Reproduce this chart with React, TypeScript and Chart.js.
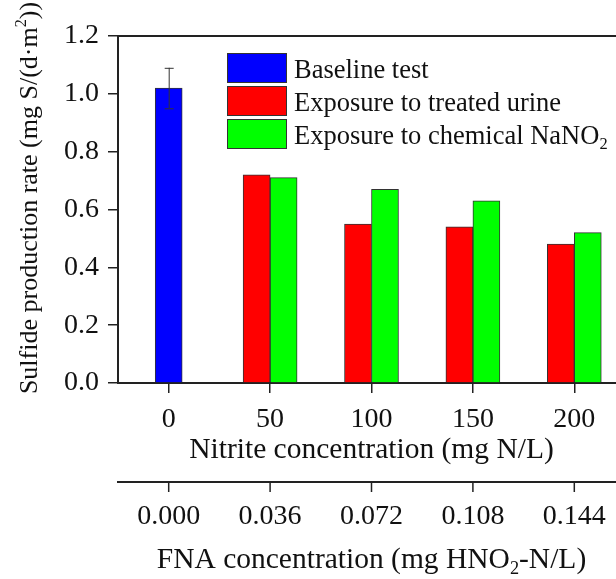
import React, { useEffect, useRef } from "react";
import { Chart, registerables } from "chart.js";

Chart.register(...registerables);

const categories = ["0", "50", "100", "150", "200"];
const fnaLabels = ["0.000", "0.036", "0.072", "0.108", "0.144"];
const baselineTest = [1.02, null, null, null, null];
const baselineErr = [0.07, null, null, null, null];
const treatedUrine = [null, 0.72, 0.55, 0.54, 0.48];
const chemicalNaNO2 = [null, 0.71, 0.67, 0.63, 0.52];
const yMin = 0;
const yMax = 1.2;
const yStep = 0.2;

const FAMILY = '"Liberation Serif", "Times New Roman", serif';
const INK = "#111";
const AXIS = "#222";

type Seg = { t: string; sub?: boolean; sup?: boolean };

function drawRich(
  ctx: CanvasRenderingContext2D,
  segs: Seg[],
  x: number,
  y: number,
  size: number,
  align: "left" | "center"
) {
  const small = size * 0.62;
  const widths = segs.map((s) => {
    ctx.font = `${s.sub || s.sup ? small : size}px ${FAMILY}`;
    return ctx.measureText(s.t).width;
  });
  const total = widths.reduce((a, b) => a + b, 0);
  let cx = align === "center" ? x - total / 2 : x;
  ctx.textAlign = "left";
  ctx.textBaseline = "alphabetic";
  ctx.fillStyle = INK;
  segs.forEach((s, i) => {
    ctx.font = `${s.sub || s.sup ? small : size}px ${FAMILY}`;
    let yy = y;
    if (s.sub) yy = y + size * 0.22;
    if (s.sup) yy = y - size * 0.42;
    ctx.fillText(s.t, cx, yy);
    cx += widths[i];
  });
}

const legendItems: { color: string; segs: Seg[] }[] = [
  { color: "#0000FF", segs: [{ t: "Baseline test" }] },
  { color: "#FF0000", segs: [{ t: "Exposure to treated urine" }] },
  { color: "#00FF00", segs: [{ t: "Exposure to chemical NaNO" }, { t: "2", sub: true }] },
];

const decorPlugin = {
  id: "decor",
  afterDatasetsDraw(chart: any) {
    const ctx: CanvasRenderingContext2D = chart.ctx;
    const ys = chart.scales.y;
    ctx.save();
    const meta = chart.getDatasetMeta(0);
    meta.data.forEach((el: any, i: number) => {
      const v = baselineTest[i];
      const e = baselineErr[i];
      if (v == null || e == null) return;
      const x = el.x;
      const yt = ys.getPixelForValue(v + e);
      const yb = ys.getPixelForValue(v - e);
      ctx.strokeStyle = "#333";
      ctx.lineWidth = 1;
      ctx.beginPath();
      ctx.moveTo(x + 0.5, yt);
      ctx.lineTo(x + 0.5, yb);
      ctx.moveTo(x - 4, yt + 0.5);
      ctx.lineTo(x + 5, yt + 0.5);
      ctx.moveTo(x - 4, yb + 0.5);
      ctx.lineTo(x + 5, yb + 0.5);
      ctx.stroke();
    });
    ctx.restore();
  },
  afterDraw(chart: any) {
    const ctx: CanvasRenderingContext2D = chart.ctx;
    const xs = chart.scales.x;
    const area = chart.chartArea;
    ctx.save();
    ctx.strokeStyle = AXIS;
    ctx.lineWidth = 2;
    ctx.beginPath();
    ctx.moveTo(area.left - 1, area.top);
    ctx.lineTo(area.right, area.top);
    ctx.stroke();

    const boxX = 227;
    const boxW = 59;
    const boxH = 29;
    const rowY = [53, 86, 119];
    legendItems.forEach((it, i) => {
      ctx.fillStyle = it.color;
      ctx.fillRect(boxX, rowY[i], boxW, boxH);
      ctx.strokeStyle = "#333";
      ctx.lineWidth = 1;
      ctx.strokeRect(boxX + 0.5, rowY[i] + 0.5, boxW, boxH);
      drawRich(ctx, it.segs, 294, rowY[i] + boxH / 2 + 10, 26.5, "left");
    });

    const axY = 482;
    ctx.strokeStyle = AXIS;
    ctx.lineWidth = 2;
    ctx.beginPath();
    ctx.moveTo(area.left - 1, axY);
    ctx.lineTo(area.right, axY);
    ctx.stroke();
    ctx.lineWidth = 1.5;
    categories.forEach((_, i) => {
      const px = xs.getPixelForValue(i);
      ctx.beginPath();
      ctx.moveTo(px, axY);
      ctx.lineTo(px, axY + 10);
      ctx.stroke();
      drawRich(ctx, [{ t: fnaLabels[i] }], px, 524, 28, "center");
    });
    const cx = (area.left + area.right) / 2;
    drawRich(
      ctx,
      [{ t: "FNA concentration (mg HNO" }, { t: "2", sub: true }, { t: "-N/L)" }],
      cx,
      568,
      29.5,
      "center"
    );

    ctx.save();
    ctx.translate(37, 198);
    ctx.rotate(-Math.PI / 2);
    drawRich(
      ctx,
      [{ t: "Sulfide production rate (mg S/(d·m" }, { t: "2", sup: true }, { t: "))" }],
      0,
      0,
      26,
      "center"
    );
    ctx.restore();
    ctx.restore();
  },
};

export default function App() {
  const ref = useRef<HTMLCanvasElement | null>(null);
  useEffect(() => {
    if (!ref.current) return;
    const chart = new Chart(ref.current, {
      type: "bar",
      data: {
        labels: categories,
        datasets: [
          {
            label: "Baseline test",
            data: baselineTest as any,
            backgroundColor: "#0000FF",
            borderColor: "#333",
            borderWidth: 1,
          },
          {
            label: "Exposure to treated urine",
            data: treatedUrine as any,
            backgroundColor: "#FF0000",
            borderColor: "#333",
            borderWidth: 1,
          },
          {
            label: "Exposure to chemical NaNO2",
            data: chemicalNaNO2 as any,
            backgroundColor: "#00FF00",
            borderColor: "#333",
            borderWidth: 1,
          },
        ],
      },
      options: {
        responsive: false,
        animation: false,
        devicePixelRatio: 1,
        layout: { padding: { top: 36, right: 15, left: 0, bottom: 0 } },
        datasets: { bar: { barThickness: 27, skipNull: true } } as any,
        plugins: { legend: { display: false }, tooltip: { enabled: false } },
        scales: {
          x: {
            type: "category",
            offset: true,
            grid: {
              display: true,
              offset: false,
              drawOnChartArea: false,
              drawTicks: true,
              tickLength: 10,
              color: AXIS,
              lineWidth: 1.5,
            },
            border: { display: true, color: AXIS, width: 2 },
            ticks: {
              color: INK,
              padding: 10,
              maxRotation: 0,
              autoSkip: false,
              font: { family: FAMILY, size: 28 },
            },
            title: {
              display: true,
              text: "Nitrite concentration (mg N/L)",
              color: INK,
              font: { family: FAMILY, size: 29.5 },
              padding: { top: 0, bottom: 111 },
            },
            afterFit(scale: any) {
              scale.height = 196;
            },
          },
          y: {
            min: yMin,
            max: yMax,
            grid: {
              display: true,
              drawOnChartArea: false,
              drawTicks: true,
              tickLength: 10,
              color: AXIS,
              lineWidth: 1.5,
            },
            border: { display: true, color: AXIS, width: 2 },
            ticks: {
              stepSize: yStep,
              color: INK,
              padding: 9,
              font: { family: FAMILY, size: 28 },
              callback: (v: any) => Number(v).toFixed(1),
            },
            afterFit(scale: any) {
              scale.width = 118;
            },
          },
        },
      },
      plugins: [decorPlugin],
    });
    return () => chart.destroy();
  }, []);
  return (
    <div
      style={{
        position: "fixed",
        left: 0,
        top: 0,
        width: 616,
        height: 579,
        overflow: "hidden",
        background: "#fff",
      }}
    >
      <canvas ref={ref} width={640} height={579} style={{ display: "block", width: 640, height: 579 }} />
    </div>
  );
}
